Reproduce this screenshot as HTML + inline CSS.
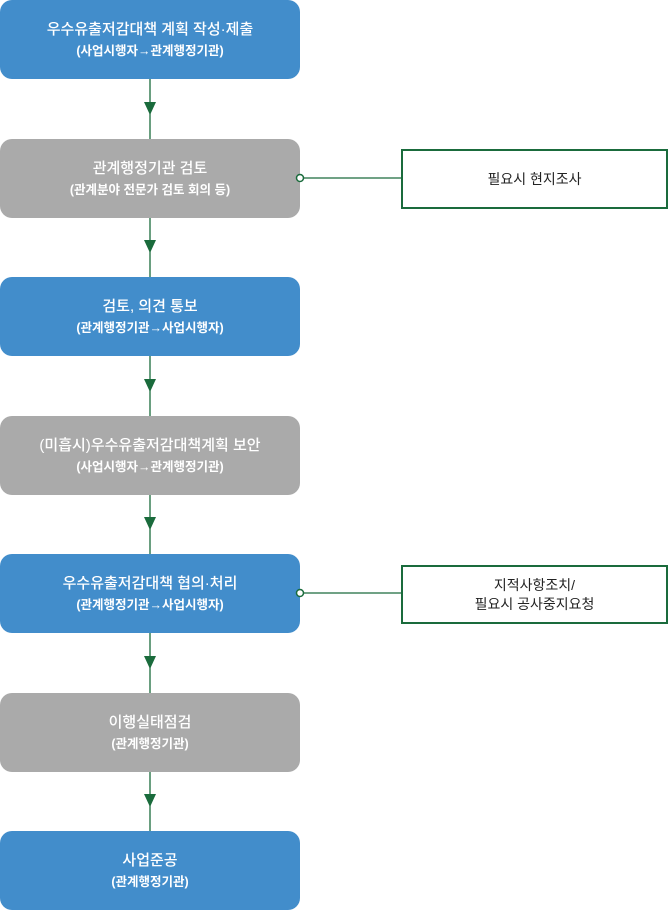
<!DOCTYPE html>
<html><head><meta charset="utf-8"><style>
body{margin:0;width:668px;height:911px;background:#fff;position:relative;font-family:"Liberation Sans","Noto Sans CJK KR",sans-serif;overflow:hidden}
.b{position:absolute;left:0;width:300px;height:79px;border-radius:12px;color:#fff;text-align:center;display:flex;flex-direction:column;justify-content:center}
.bl{background:#428dcb}.g{background:#aaaaaa}
.t1{font-size:15px;font-weight:500;line-height:22px}
.t2{font-size:12.5px;font-weight:bold;line-height:20px}
.r{position:absolute;left:401px;width:263px;border:2px solid #1a6b3c;display:flex;align-items:center;justify-content:center;text-align:center;font-size:14px;color:#222;line-height:19px}
svg{position:absolute;left:0;top:0}
</style></head><body>
<svg width="668" height="911">
<g stroke="#1a6b3c" stroke-width="1.3">
<line x1="150" y1="79" x2="150" y2="139"/><line x1="150" y1="218" x2="150" y2="277"/><line x1="150" y1="356" x2="150" y2="416"/><line x1="150" y1="495" x2="150" y2="554"/><line x1="150" y1="633" x2="150" y2="693"/><line x1="150" y1="772" x2="150" y2="831"/>
<line x1="300" y1="178" x2="402" y2="178"/><line x1="300" y1="593" x2="402" y2="593"/>
</g>
<g fill="#1a6b3c">
<polygon points="144,102 156,102 150,115"/><polygon points="144,240 156,240 150,253"/><polygon points="144,379 156,379 150,392"/><polygon points="144,517 156,517 150,530"/><polygon points="144,656 156,656 150,669"/><polygon points="144,794 156,794 150,807"/>
</g>
</svg>
<div class="b bl" style="top:0"><div class="t1">우수유출저감대책 계획 작성·제출</div><div class="t2">(사업시행자→관계행정기관)</div></div>
<div class="b g" style="top:139px"><div class="t1">관계행정기관 검토</div><div class="t2">(관계분야 전문가 검토 회의 등)</div></div>
<div class="b bl" style="top:277px"><div class="t1">검토, 의견 통보</div><div class="t2">(관계행정기관→사업시행자)</div></div>
<div class="b g" style="top:416px"><div class="t1">(미흡시)우수유출저감대책계획 보안</div><div class="t2">(사업시행자→관계행정기관)</div></div>
<div class="b bl" style="top:554px"><div class="t1">우수유출저감대책 협의·처리</div><div class="t2">(관계행정기관→사업시행자)</div></div>
<div class="b g" style="top:693px"><div class="t1">이행실태점검</div><div class="t2">(관계행정기관)</div></div>
<div class="b bl" style="top:831px"><div class="t1">사업준공</div><div class="t2">(관계행정기관)</div></div>
<svg width="668" height="911" style="pointer-events:none">
<circle cx="300" cy="178" r="3.5" fill="#fff" stroke="#1a6b3c" stroke-width="1.5"/>
<circle cx="300" cy="593" r="3.5" fill="#fff" stroke="#1a6b3c" stroke-width="1.5"/>
</svg>
<div class="r" style="top:149px;height:56px">필요시 현지조사</div>
<div class="r" style="top:565px;height:55px">지적사항조치/<br>필요시 공사중지요청</div>
</body></html>
